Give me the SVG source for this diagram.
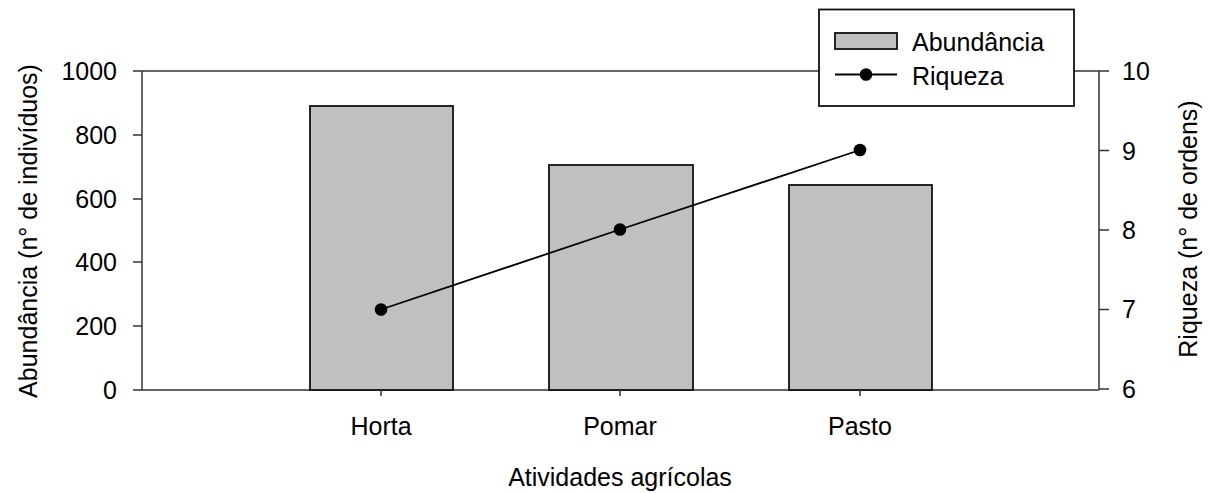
<svg xmlns="http://www.w3.org/2000/svg" width="1210" height="493" viewBox="0 0 1210 493">
<style>
text{font-family:"Liberation Sans",Arial,sans-serif;font-size:25px;fill:#000}
.ax{stroke:#333;stroke-width:1.5;fill:none}
.bar{fill:#c0c0c0;stroke:#111;stroke-width:1.8}
.r{text-anchor:end}
.m{text-anchor:middle}
</style>
<rect width="1210" height="493" fill="#fff"/>
<g id="frame">
<line class="ax" x1="142" y1="71" x2="1099" y2="71"/>
<line class="ax" x1="142" y1="71" x2="142" y2="390"/>
<line class="ax" x1="1099" y1="71" x2="1099" y2="390"/>
<line class="ax" x1="142" y1="390" x2="1099" y2="390"/>
</g>
<g id="left-axis">
<path class="ax" d="M133 71H142M133 135H142M133 199H142M133 262H142M133 326H142M133 390H142"/>
<text class="r" x="117" y="80">1000</text>
<text class="r" x="117" y="144">800</text>
<text class="r" x="117" y="208">600</text>
<text class="r" x="117" y="271">400</text>
<text class="r" x="117" y="335">200</text>
<text class="r" x="117" y="399">0</text>
<text class="m" transform="translate(37,231) rotate(-90)">Abundância (n° de indivíduos)</text>
</g>
<g id="right-axis">
<path class="ax" d="M1099 71H1109M1099 150.5H1109M1099 230H1109M1099 309.5H1109M1099 389H1109"/>
<text x="1122" y="80">10</text>
<text x="1122" y="160">9</text>
<text x="1122" y="239">8</text>
<text x="1122" y="318">7</text>
<text x="1122" y="398">6</text>
<text class="m" transform="translate(1197,229) rotate(-90)">Riqueza (n° de ordens)</text>
</g>
<g id="bar-horta"><rect class="bar" x="310" y="106" width="143" height="284"/></g>
<g id="bar-pomar"><rect class="bar" x="549" y="165" width="144" height="225"/></g>
<g id="bar-pasto"><rect class="bar" x="789" y="185" width="143" height="205"/></g>
<g id="x-axis">
<path class="ax" d="M381 390V396M620 390V396M860 390V396"/>
<text class="m" x="381" y="435">Horta</text>
<text class="m" x="620" y="435">Pomar</text>
<text class="m" x="860" y="435">Pasto</text>
<text class="m" x="620" y="486">Atividades agrícolas</text>
</g>
<g id="connectors">
<polyline points="381,309.5 620,229.5 860,150" fill="none" stroke="#000" stroke-width="1.8"/>
</g>
<g id="points">
<circle cx="381" cy="309.5" r="6.3" fill="#000"/>
<circle cx="620" cy="229.5" r="6.3" fill="#000"/>
<circle cx="860" cy="150" r="6.3" fill="#000"/>
</g>
<g id="legend">
<rect x="819" y="9.5" width="255" height="96.5" fill="#fff" stroke="#111" stroke-width="1.8"/>
<rect class="bar" x="835" y="33" width="62" height="16"/>
<text x="912" y="51">Abundância</text>
<line x1="835" y1="74.5" x2="897" y2="74.5" stroke="#000" stroke-width="1.8"/>
<circle cx="866" cy="74.5" r="6.3" fill="#000"/>
<text x="912" y="85">Riqueza</text>
</g>
</svg>
